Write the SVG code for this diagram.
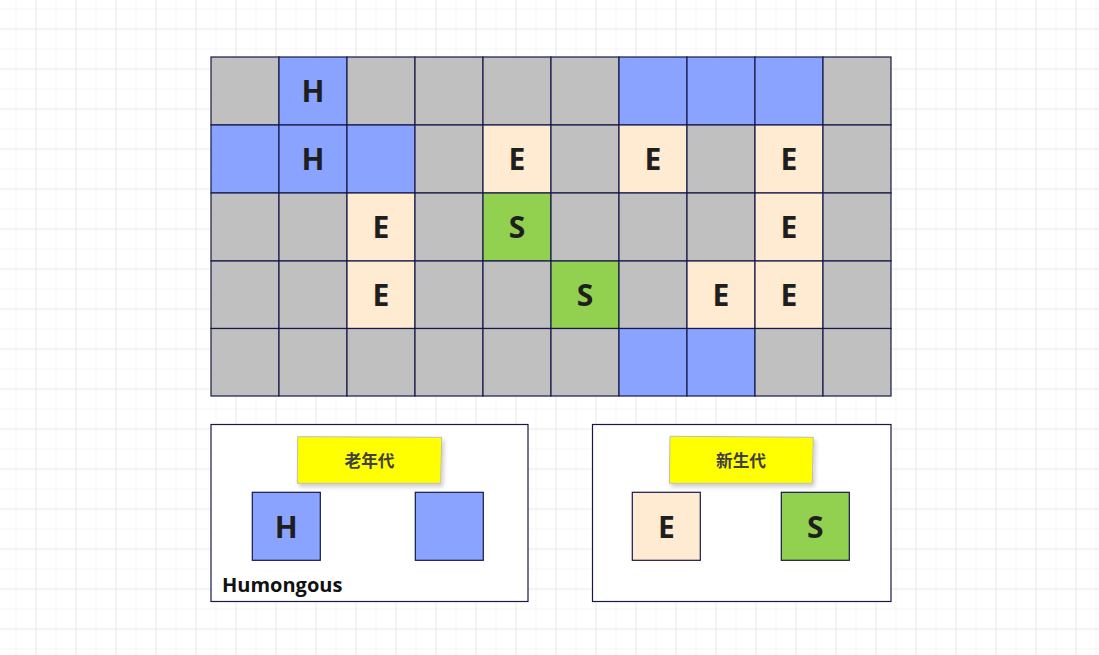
<svg xmlns="http://www.w3.org/2000/svg" width="1099" height="655" viewBox="0 0 1099 655">
<defs>
<pattern id="minor" x="15.5" y="8.5" width="20" height="20" patternUnits="userSpaceOnUse">
<path d="M0 0H20M0 0V20" fill="none" stroke="#efefef" stroke-width="1"/>
</pattern>
<pattern id="major" x="35.5" y="28.5" width="40" height="40" patternUnits="userSpaceOnUse">
<path d="M0 0H40M0 0V40" fill="none" stroke="#e0e0e0" stroke-width="1"/>
</pattern>
<filter id="sh" x="-10%" y="-20%" width="125%" height="150%">
<feDropShadow dx="2" dy="3" stdDeviation="2" flood-color="#000" flood-opacity="0.2"/>
</filter>
</defs>
<style>
.c{stroke:#16184a;stroke-width:1.2}
.g{fill:#c0c0c0}
.b{fill:#8aa3ff}
.e{fill:#ffebd2}
.s{fill:#92d050}
.t{font-family:"Open Sans","DejaVu Sans",sans-serif;font-weight:bold;font-size:30px;fill:#1e1e1e;text-anchor:middle}
.box{fill:#fff;stroke:#16184a;stroke-width:1.2}
.note{fill:#ffff00;stroke:#bdbdbd;stroke-width:1}
.nt{font-family:"Noto Sans CJK SC",sans-serif;font-weight:bold;font-size:16.7px;fill:#404040;text-anchor:middle}
</style>
<rect width="1099" height="655" fill="#fff"/>
<rect width="1099" height="655" fill="url(#minor)"/>
<rect width="1099" height="655" fill="url(#major)"/>
<g id="grid">
<g id="row0">
<rect class="c g" x="211" y="57" width="68" height="68"/>
<rect class="c b" x="279" y="57" width="68" height="68"/>
<rect class="c g" x="347" y="57" width="68" height="68"/>
<rect class="c g" x="415" y="57" width="68" height="68"/>
<rect class="c g" x="483" y="57" width="68" height="68"/>
<rect class="c g" x="551" y="57" width="68" height="68"/>
<rect class="c b" x="619" y="57" width="68" height="68"/>
<rect class="c b" x="687" y="57" width="68" height="68"/>
<rect class="c b" x="755" y="57" width="68" height="68"/>
<rect class="c g" x="823" y="57" width="68" height="68"/>
</g>
<g id="row1">
<rect class="c b" x="211" y="125" width="68" height="68"/>
<rect class="c b" x="279" y="125" width="68" height="68"/>
<rect class="c b" x="347" y="125" width="68" height="68"/>
<rect class="c g" x="415" y="125" width="68" height="68"/>
<rect class="c e" x="483" y="125" width="68" height="68"/>
<rect class="c g" x="551" y="125" width="68" height="68"/>
<rect class="c e" x="619" y="125" width="68" height="68"/>
<rect class="c g" x="687" y="125" width="68" height="68"/>
<rect class="c e" x="755" y="125" width="68" height="68"/>
<rect class="c g" x="823" y="125" width="68" height="68"/>
</g>
<g id="row2">
<rect class="c g" x="211" y="193" width="68" height="68"/>
<rect class="c g" x="279" y="193" width="68" height="68"/>
<rect class="c e" x="347" y="193" width="68" height="68"/>
<rect class="c g" x="415" y="193" width="68" height="68"/>
<rect class="c s" x="483" y="193" width="68" height="68"/>
<rect class="c g" x="551" y="193" width="68" height="68"/>
<rect class="c g" x="619" y="193" width="68" height="68"/>
<rect class="c g" x="687" y="193" width="68" height="68"/>
<rect class="c e" x="755" y="193" width="68" height="68"/>
<rect class="c g" x="823" y="193" width="68" height="68"/>
</g>
<g id="row3">
<rect class="c g" x="211" y="261" width="68" height="67.5"/>
<rect class="c g" x="279" y="261" width="68" height="67.5"/>
<rect class="c e" x="347" y="261" width="68" height="67.5"/>
<rect class="c g" x="415" y="261" width="68" height="67.5"/>
<rect class="c g" x="483" y="261" width="68" height="67.5"/>
<rect class="c s" x="551" y="261" width="68" height="67.5"/>
<rect class="c g" x="619" y="261" width="68" height="67.5"/>
<rect class="c e" x="687" y="261" width="68" height="67.5"/>
<rect class="c e" x="755" y="261" width="68" height="67.5"/>
<rect class="c g" x="823" y="261" width="68" height="67.5"/>
</g>
<g id="row4">
<rect class="c g" x="211" y="328.5" width="68" height="67.5"/>
<rect class="c g" x="279" y="328.5" width="68" height="67.5"/>
<rect class="c g" x="347" y="328.5" width="68" height="67.5"/>
<rect class="c g" x="415" y="328.5" width="68" height="67.5"/>
<rect class="c g" x="483" y="328.5" width="68" height="67.5"/>
<rect class="c g" x="551" y="328.5" width="68" height="67.5"/>
<rect class="c b" x="619" y="328.5" width="68" height="67.5"/>
<rect class="c b" x="687" y="328.5" width="68" height="67.5"/>
<rect class="c g" x="755" y="328.5" width="68" height="67.5"/>
<rect class="c g" x="823" y="328.5" width="68" height="67.5"/>
</g>
<g id="labels">
<text class="t" x="313" y="102">H</text>
<text class="t" x="313" y="170">H</text>
<text class="t" x="517" y="170">E</text>
<text class="t" x="653" y="170">E</text>
<text class="t" x="789" y="170">E</text>
<text class="t" x="381" y="238">E</text>
<text class="t" x="517" y="238">S</text>
<text class="t" x="789" y="238">E</text>
<text class="t" x="381" y="306">E</text>
<text class="t" x="585" y="306">S</text>
<text class="t" x="721" y="306">E</text>
<text class="t" x="789" y="306">E</text>
</g>
</g>
<g id="old-gen">
<rect class="box" x="211" y="424.5" width="317" height="177"/>
<polygon class="note" filter="url(#sh)" points="297.7,436.7 441.7,437.3 440.7,483.3 297.3,483.3"/>
<text class="nt" x="369.5" y="466.5">老年代</text>
<rect class="c b" x="252.3" y="492.3" width="68" height="68"/>
<text class="t" x="286.3" y="538">H</text>
<rect class="c b" x="415.3" y="492.3" width="68" height="68"/>
<text x="222" y="592" font-family="'Open Sans','DejaVu Sans',sans-serif" font-weight="bold" font-size="20" fill="#111">Humongous</text>
</g>
<g id="young-gen">
<rect class="box" x="592.5" y="424.5" width="298.5" height="177"/>
<polygon class="note" filter="url(#sh)" points="670,436.3 813.3,437.3 812.3,483.3 669.3,483.3"/>
<text class="nt" x="741" y="466.5">新生代</text>
<rect class="c e" x="632.3" y="492.3" width="68" height="68"/>
<text class="t" x="666.3" y="538">E</text>
<rect class="c s" x="781.3" y="492.3" width="68" height="68"/>
<text class="t" x="815.3" y="538">S</text>
</g>
<g id="connectors"/>
</svg>
